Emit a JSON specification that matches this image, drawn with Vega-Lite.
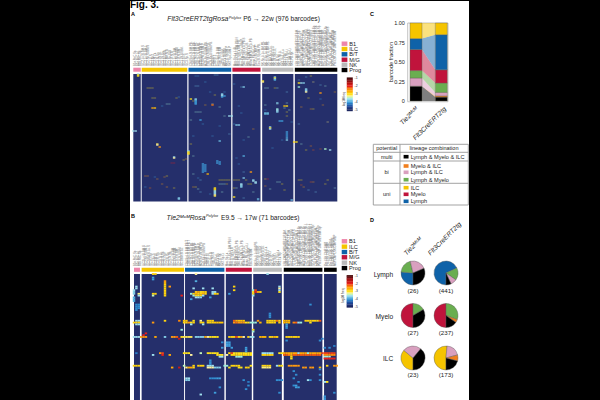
{"$schema":"https://vega.github.io/schema/vega-lite/v6.json","width":600,"height":400,"padding":0,"autosize":{"type":"fit","contains":"padding"},"background":"black",
"config":{"view":{"stroke":null},"axis":{"disable":true},"legend":{"disable":true},"text":{"font":"Liberation Sans","color":"#222"}},
"resolve":{"scale":{"x":"independent","y":"independent","color":"independent","fill":"independent"}},
"datasets":{
"ga":[{"g":"B1","x":0,"x2":3.1,"y":0,"y2":127.5,"sy":-6.3,"sy2":-2.3},{"g":"ILC","x":3.5,"x2":22.5,"y":0,"y2":127.5,"sy":-6.3,"sy2":-2.3},{"g":"B/T","x":23,"x2":40.8,"y":0,"y2":127.5,"sy":-6.3,"sy2":-2.3},{"g":"M/G","x":41.3,"x2":53,"y":0,"y2":127.5,"sy":-6.3,"sy2":-2.3},{"g":"NK","x":53.7,"x2":66.7,"y":0,"y2":127.5,"sy":-6.3,"sy2":-2.3},{"g":"Prog","x":67.3,"x2":85,"y":0,"y2":127.5,"sy":-6.3,"sy2":-2.3}],
"gb":[{"g":"B1","x":0,"x2":2.5,"y":0,"y2":70.6,"sy":-3.5,"sy2":-1.2},{"g":"ILC","x":3.2,"x2":21,"y":0,"y2":70.6,"sy":-3.5,"sy2":-1.2},{"g":"B/T","x":21.4,"x2":37.9,"y":0,"y2":70.6,"sy":-3.5,"sy2":-1.2},{"g":"M/G","x":38.5,"x2":49.4,"y":0,"y2":70.6,"sy":-3.5,"sy2":-1.2},{"g":"NK","x":50,"x2":62,"y":0,"y2":70.6,"sy":-3.5,"sy2":-1.2},{"g":"Prog","x":62.8,"x2":79,"y":0,"y2":70.6,"sy":-3.5,"sy2":-1.2},{"g":"Prog","x":79.7,"x2":85,"y":0,"y2":70.6,"sy":-3.5,"sy2":-1.2}],
"lega":[{"t":"B1","g":"B1","y":-30.3,"x":86.8,"x2":89.2,"tx":90},{"t":"ILC","g":"ILC","y":-25,"x":86.8,"x2":89.2,"tx":90},{"t":"B/T","g":"B/T","y":-19.7,"x":86.8,"x2":89.2,"tx":90},{"t":"M/G","g":"M/G","y":-14.3,"x":86.8,"x2":89.2,"tx":90},{"t":"NK","g":"NK","y":-9.3,"x":86.8,"x2":89.2,"tx":90},{"t":"Prog","g":"Prog","y":-4,"x":86.8,"x2":89.2,"tx":90}],
"legb":[{"t":"B1","g":"B1","y":-18.2,"x":87.1,"x2":89.4,"tx":90.2},{"t":"ILC","g":"ILC","y":-15.2,"x":87.1,"x2":89.4,"tx":90.2},{"t":"B/T","g":"B/T","y":-12.2,"x":87.1,"x2":89.4,"tx":90.2},{"t":"M/G","g":"M/G","y":-9.3,"x":87.1,"x2":89.4,"tx":90.2},{"t":"NK","g":"NK","y":-6.3,"x":87.1,"x2":89.4,"tx":90.2},{"t":"Prog","g":"Prog","y":-3.3,"x":87.1,"x2":89.4,"tx":90.2}],
"cba":[{"x":90.2,"y":4.3,"v":-1},{"x":90.2,"y":5.9,"v":-1.2},{"x":90.2,"y":7.5,"v":-1.4},{"x":90.2,"y":9.1,"v":-1.6},{"x":90.2,"y":10.7,"v":-1.8},{"x":90.2,"y":12.3,"v":-2},{"x":90.2,"y":13.9,"v":-2.2},{"x":90.2,"y":15.5,"v":-2.4},{"x":90.2,"y":17.1,"v":-2.6},{"x":90.2,"y":18.7,"v":-2.8},{"x":90.2,"y":20.3,"v":-3},{"x":90.2,"y":21.9,"v":-3.2},{"x":90.2,"y":23.5,"v":-3.4},{"x":90.2,"y":25.1,"v":-3.6},{"x":90.2,"y":26.7,"v":-3.8},{"x":90.2,"y":28.3,"v":-4},{"x":90.2,"y":29.9,"v":-4.2},{"x":90.2,"y":31.5,"v":-4.4},{"x":90.2,"y":33.1,"v":-4.6},{"x":90.2,"y":34.7,"v":-4.8},{"x":90.2,"y":36.3,"v":-5}],
"cbb":[{"x":90.5,"y":1.1,"v":-1},{"x":90.5,"y":1.96,"v":-1.2},{"x":90.5,"y":2.81,"v":-1.4},{"x":90.5,"y":3.67,"v":-1.6},{"x":90.5,"y":4.52,"v":-1.8},{"x":90.5,"y":5.38,"v":-2},{"x":90.5,"y":6.23,"v":-2.2},{"x":90.5,"y":7.09,"v":-2.4},{"x":90.5,"y":7.94,"v":-2.6},{"x":90.5,"y":8.8,"v":-2.8},{"x":90.5,"y":9.65,"v":-3},{"x":90.5,"y":10.51,"v":-3.2},{"x":90.5,"y":11.36,"v":-3.4},{"x":90.5,"y":12.22,"v":-3.6},{"x":90.5,"y":13.07,"v":-3.8},{"x":90.5,"y":13.93,"v":-4},{"x":90.5,"y":14.78,"v":-4.2},{"x":90.5,"y":15.64,"v":-4.4},{"x":90.5,"y":16.49,"v":-4.6},{"x":90.5,"y":17.35,"v":-4.8},{"x":90.5,"y":18.2,"v":-5}],
"cta":[{"x":92.2,"y":4.3,"t":"-1"},{"x":92.2,"y":12.3,"t":"-2"},{"x":92.2,"y":20.3,"t":"-3"},{"x":92.2,"y":28.3,"t":"-4"},{"x":92.2,"y":36.3,"t":"-5"}],
"ctb":[{"x":92.6,"y":1.1,"t":"-1"},{"x":92.6,"y":5.38,"t":"-2"},{"x":92.6,"y":9.65,"t":"-3"},{"x":92.6,"y":13.93,"t":"-4"},{"x":92.6,"y":18.2,"t":"-5"}],
"la":[{"y":-8,"x":0.6,"t":"B1a.PeC.Sp."},{"y":-8,"x":1.6,"t":"B1a.PeC.Lu."},{"y":-8,"x":2.6,"t":"B1b.PeC.Sp."},{"y":-8,"x":4,"t":"ILC2.Lu.SI.BM.S"},{"y":-8,"x":5,"t":"ILC2.Lu.SI.BM.L"},{"y":-8,"x":6,"t":"ILC2.Sp.SI.BM.S"},{"y":-8,"x":7,"t":"ILC1.Li.S"},{"y":-8,"x":8,"t":"ILC1.Sp.L"},{"y":-8,"x":9,"t":"ILC3.SI.Lu."},{"y":-8,"x":10,"t":"ILC3.SI.Sp."},{"y":-8,"x":11,"t":"ILC3.LN.Lu."},{"y":-8,"x":12,"t":"ILC3.LN.Sp."},{"y":-8,"x":13,"t":"ILC2.Lu.SI.B"},{"y":-8,"x":14,"t":"ILC2.BM.SI.B"},{"y":-8,"x":15,"t":"ILC2.Sp.SI.B"},{"y":-8,"x":16,"t":"ILC2.Li.SI.B"},{"y":-8,"x":17,"t":"ILC1.Lu.SI.BM."},{"y":-8,"x":18,"t":"ILC1.Sp.SI.BM."},{"y":-8,"x":19,"t":"ILC1.Li.SI.BM."},{"y":-8,"x":20,"t":"ILC1.LN.SI.BM."},{"y":-8,"x":21,"t":"ILC3.Lu.S"},{"y":-8,"x":22,"t":"ILC3.Sp.S"},
{"y":-8,"x":24,"t":"CD4.Sp.LN.BM.PB."},{"y":-8,"x":25,"t":"CD8.Sp.LN.BM.PB."},{"y":-8,"x":26,"t":"CD4.Th.LN.BM.PB."},{"y":-8,"x":27,"t":"CD8.Th.LN.BM.PB."},{"y":-8,"x":28,"t":"B220.Sp.LN.BM.P"},{"y":-8,"x":29,"t":"B220.PB.LN.BM.P"},{"y":-8,"x":30,"t":"MZB.Sp.LN.BM.PB."},{"y":-8,"x":31,"t":"FoB.Sp.LN.BM.PB."},{"y":-8,"x":32,"t":"GCB.Sp.LN.BM.PB."},{"y":-8,"x":33,"t":"CD4.SI.L"},{"y":-8,"x":34,"t":"CD8.SI.L"},{"y":-8,"x":35,"t":"Treg.Sp.LN.BM"},{"y":-8,"x":36,"t":"Treg.Th.LN.BM"},{"y":-8,"x":37,"t":"gdT.SI.Lu.BM."},{"y":-8,"x":38,"t":"gdT.Lu.Sp.BM."},{"y":-8,"x":39,"t":"NKT.Li.Sp.BM.P"},{"y":-8,"x":40,"t":"NKT.Sp.Li.BM.P"},
{"y":-8,"x":42,"t":"Mac.Sp.Lu.Li.B"},{"y":-8,"x":43,"t":"Mac.Lu.Sp.Li.BM.PB.N"},{"y":-8,"x":44,"t":"Mac.Li.Sp.Lu.BM.PB"},{"y":-8,"x":45,"t":"Mac.PeC.Sp.Lu.BM.P"},{"y":-8,"x":46,"t":"Neu.BM.Sp.Lu.Li.PB.S"},{"y":-8,"x":47,"t":"Neu.PB.Sp.Lu.Li.B"},{"y":-8,"x":48,"t":"Neu.Sp.BM.Lu.Li."},{"y":-8,"x":49,"t":"Mono.BM.Sp.Lu.Li.PB"},{"y":-8,"x":50,"t":"Mono.PB.Sp.Lu.L"},{"y":-8,"x":51,"t":"Eos.Lu.Sp.BM.P"},{"y":-8,"x":52,"t":"Eos.SI.Sp.BM.PB."},
{"y":-8,"x":54,"t":"NK.Sp.Li.Lu.BM.PB."},{"y":-8,"x":55,"t":"NK.Li.Sp.Lu.BM.PB."},{"y":-8,"x":56,"t":"NK.Lu.Sp.Li.BM.PB."},{"y":-8,"x":57,"t":"NK.BM.Sp.Li.Lu."},{"y":-8,"x":58,"t":"NK.PB.Sp.Li.Lu."},{"y":-8,"x":59,"t":"NK.LN.Sp.Li.L"},{"y":-8,"x":60,"t":"NK.SI.Sp."},{"y":-8,"x":61,"t":"NK.Th.Sp.Li."},{"y":-8,"x":62,"t":"NK1.Sp.Li.Lu."},{"y":-8,"x":63,"t":"NK1.Li.Sp."},{"y":-8,"x":64,"t":"NK1.Lu.Sp.Li"},{"y":-8,"x":65,"t":"NK1.BM.Sp.Li"},{"y":-8,"x":66,"t":"NK1.PB.Sp."},
{"y":-8,"x":68,"t":"LSK.CMP.GMP.MEP.CLP.BM."},{"y":-8,"x":69,"t":"LSK.CMP.GMP.MEP.CLP.Sp."},{"y":-8,"x":70,"t":"LMPP.CMP.GMP.MEP.CLP."},{"y":-8,"x":71,"t":"MPP.CMP.GMP.MEP.CLP.BM."},{"y":-8,"x":72,"t":"HSC.CMP.GMP.MEP.CLP.BM."},{"y":-8,"x":73,"t":"ST.CMP.GMP.MEP.CLP.BM.S"},{"y":-8,"x":74,"t":"LT.CMP.GMP.MEP.CLP.BM.S"},{"y":-8,"x":75,"t":"CMP.LSK.GMP.MEP.CLP.BM.Sp."},{"y":-8,"x":76,"t":"GMP.LSK.CMP.MEP.CLP.BM.Sp."},{"y":-8,"x":77,"t":"MEP.LSK.CMP.GMP.CLP.BM.Sp."},{"y":-8,"x":78,"t":"CLP.LSK.CMP.GMP.MEP.BM."},{"y":-8,"x":79,"t":"ALP.LSK.CMP.GMP.MEP.BM."},{"y":-8,"x":80,"t":"BLP.LSK.CMP.GMP.MEP.BM.Sp"},{"y":-8,"x":81,"t":"ILCP.LSK.CMP.GMP.MEP.BM.S"},{"y":-8,"x":82,"t":"ChILP.LSK.CMP.GMP.MEP."},{"y":-8,"x":83,"t":"NKP.LSK.CMP.GMP.MEP.BM"},{"y":-8,"x":84,"t":"Pro.LSK.CMP.GMP.MEP.BM"}],
"lb":[{"y":-4.4,"x":0.4,"t":"B1a.PeC.Sp"},{"y":-4.4,"x":1.4,"t":"B1a.PeC.Lu"},{"y":-4.4,"x":2.3,"t":"B1b.PeC.Sp"},{"y":-4.4,"x":4,"t":"ILC2.Lu.SI.BM.S"},{"y":-4.4,"x":5,"t":"ILC2.Sp.SI.BM.L"},{"y":-4.4,"x":6,"t":"ILC2.BM.SI.Lu.S"},{"y":-4.4,"x":7,"t":"ILC1.Li.Sp"},{"y":-4.4,"x":8,"t":"ILC1.Sp.Li"},{"y":-4.4,"x":9,"t":"ILC3.SI.Lu."},{"y":-4.4,"x":10,"t":"ILC3.SI.Sp."},{"y":-4.4,"x":11,"t":"ILC3.LN.Lu."},{"y":-4.4,"x":12,"t":"ILC3.LN.Sp."},{"y":-4.4,"x":13,"t":"ILC2.Li.Sp."},{"y":-4.4,"x":14,"t":"ILC2.SI.Sp."},{"y":-4.4,"x":15,"t":"ILC2.LN.Sp."},{"y":-4.4,"x":16,"t":"ILC1.Lu.SI.BM."},{"y":-4.4,"x":17,"t":"ILC1.Sp.SI.BM."},{"y":-4.4,"x":18,"t":"ILC1.Li.SI.BM."},{"y":-4.4,"x":19,"t":"ILC1.LN.SI.BM."},{"y":-4.4,"x":20,"t":"ILC1.BM.SI.Lu."},
{"y":-4.4,"x":22,"t":"CD4.Sp.LN.BM.PB.T"},{"y":-4.4,"x":23,"t":"CD8.Sp.LN.BM.PB.T"},{"y":-4.4,"x":24,"t":"CD4.Th.LN.BM.PB"},{"y":-4.4,"x":25,"t":"CD8.Th.LN.BM.PB"},{"y":-4.4,"x":26,"t":"B220.Sp.LN.BM.P"},{"y":-4.4,"x":27,"t":"B220.PB.LN.BM.P"},{"y":-4.4,"x":28,"t":"MZB.Sp.LN.BM.PB"},{"y":-4.4,"x":29,"t":"FoB.Sp.LN.BM.PB"},{"y":-4.4,"x":30,"t":"CD4.SI.Lu"},{"y":-4.4,"x":31,"t":"CD8.SI.Lu"},{"y":-4.4,"x":32,"t":"Treg.Sp.LN"},{"y":-4.4,"x":33,"t":"Treg.Th.LN"},{"y":-4.4,"x":34,"t":"gdT.SI.Lu."},{"y":-4.4,"x":35,"t":"gdT.Lu.Sp."},{"y":-4.4,"x":36,"t":"NKT.Li.Sp."},{"y":-4.4,"x":37,"t":"NKT.Sp.Li."},
{"y":-4.4,"x":39,"t":"Mac.Sp.Lu."},{"y":-4.4,"x":40,"t":"Mac.Lu.Sp.Li.BM.PB.N"},{"y":-4.4,"x":41,"t":"Mac.Li.Sp.Lu.B"},{"y":-4.4,"x":42,"t":"Mac.PeC.Sp.Lu."},{"y":-4.4,"x":43,"t":"Neu.BM.Sp.Lu.Li.PB."},{"y":-4.4,"x":44,"t":"Neu.PB.Sp.Lu.L"},{"y":-4.4,"x":45,"t":"Neu.Sp.BM.Lu.Li.PB"},{"y":-4.4,"x":46,"t":"Mono.BM.Sp.Lu"},{"y":-4.4,"x":47,"t":"Mono.PB.Sp.Lu.Li."},{"y":-4.4,"x":48,"t":"Eos.Lu.Sp.BM."},{"y":-4.4,"x":49,"t":"Eos.SI.Sp.BM."},
{"y":-4.4,"x":51,"t":"NK.Sp.Li.Lu.BM.PB"},{"y":-4.4,"x":52,"t":"NK.Li.Sp.Lu.BM."},{"y":-4.4,"x":53,"t":"NK.Lu.Sp.Li.BM."},{"y":-4.4,"x":54,"t":"NK.BM.Sp.Li.Lu."},{"y":-4.4,"x":55,"t":"NK.PB.Sp.Li.Lu."},{"y":-4.4,"x":56,"t":"NK.LN.Sp.Li."},{"y":-4.4,"x":57,"t":"NK.SI.Sp.Li."},{"y":-4.4,"x":58,"t":"NK.Th.Sp."},{"y":-4.4,"x":59,"t":"NK1.Sp.Li"},{"y":-4.4,"x":60,"t":"NK1.Li.Sp.Lu"},{"y":-4.4,"x":61,"t":"NK1.Lu.Sp"},
{"y":-4.4,"x":63,"t":"LSK.CMP.GMP.MEP.CLP.BM."},{"y":-4.4,"x":64,"t":"LMPP.CMP.GMP.MEP.CLP."},{"y":-4.4,"x":65,"t":"MPP.CMP.GMP.MEP.CLP.BM"},{"y":-4.4,"x":66,"t":"HSC.CMP.GMP.MEP.CLP.BM"},{"y":-4.4,"x":67,"t":"ST.CMP.GMP.MEP.CLP.BM.S"},{"y":-4.4,"x":68,"t":"LT.CMP.GMP.MEP.CLP.BM.S"},{"y":-4.4,"x":69,"t":"CMP.LSK.GMP.MEP.CLP.BM.Sp"},{"y":-4.4,"x":70,"t":"GMP.LSK.CMP.MEP.CLP.BM.Sp"},{"y":-4.4,"x":71,"t":"MEP.LSK.CMP.GMP.CLP.BM.Sp"},{"y":-4.4,"x":72,"t":"CLP.LSK.CMP.GMP.MEP.BM.Sp.L"},{"y":-4.4,"x":73,"t":"ALP.LSK.CMP.GMP.MEP.BM.Sp.L"},{"y":-4.4,"x":74,"t":"BLP.LSK.CMP.GMP.MEP.BM.Sp.L"},{"y":-4.4,"x":75,"t":"ILCP.LSK.CMP.GMP.MEP.BM.Sp."},{"y":-4.4,"x":76,"t":"ChILP.LSK.CMP.GMP.MEP.BM."},{"y":-4.4,"x":77,"t":"NKP.LSK.CMP.GMP.MEP.BM.Sp"},{"y":-4.4,"x":78,"t":"Pro.LSK.CMP.GMP.MEP.BM.Sp"},{"y":-4.4,"x":80.3,"t":"Pre.LSK.CMP.GMP"},{"y":-4.4,"x":81.3,"t":"Pro.LSK.CMP.GMP"},{"y":-4.4,"x":82.3,"t":"Pre.CMP.LSK.GMP.M"},{"y":-4.4,"x":83.3,"t":"Pro.CMP.LSK.GMP.ME"},{"y":-4.4,"x":84.3,"t":"MkP.CMP.LSK.GMP.MEP"}],
"ha":[{"x":2,"y":0,"v":-3.6},{"x":2,"y":1,"v":-3},{"x":2,"y":2,"v":-3},{"x":0,"y":57,"v":-3.6},{"x":1,"y":57,"v":-3.6},{"x":8,"y":34,"v":-2.6},{"x":9,"y":34,"v":-2.8},{"x":10,"y":70,"v":-3.1},{"x":10,"y":71,"v":-3.3},{"x":11,"y":73,"v":-2.5},{"x":17,"y":83,"v":-3.6},{"x":17,"y":84,"v":-3.3},{"x":19,"y":124,"v":-3.7},{"x":19,"y":125,"v":-3.7},{"x":24,"y":25,"v":-3},{"x":23,"y":77,"v":-3.7},{"x":23,"y":78,"v":-3},{"x":23,"y":79,"v":-2.9},{"x":23,"y":80,"v":-3},{"x":26,"y":25,"v":-3.7},{"x":26,"y":26,"v":-3.7},{"x":26,"y":27,"v":-4},{"x":26,"y":28,"v":-4},{"x":26,"y":29,"v":-4},{"x":26,"y":30,"v":-4},{"x":33,"y":31,"v":-2.3},{"x":37,"y":20,"v":-3.7},{"x":37,"y":21,"v":-3.6},{"x":37,"y":22,"v":-3.6},{"x":37,"y":23,"v":-4},{"x":38,"y":22,"v":-4},{"x":40,"y":42,"v":-3.6},{"x":41,"y":42,"v":-3.6},{"x":28,"y":46,"v":-4},{"x":36,"y":67,"v":-3.8},{"x":29,"y":90,"v":-4},{"x":29,"y":92,"v":-4},{"x":29,"y":94,"v":-4},{"x":29,"y":96,"v":-4},{"x":29,"y":98,"v":-4},{"x":30,"y":91,"v":-4},{"x":30,"y":93,"v":-4},{"x":30,"y":95,"v":-4},{"x":30,"y":97,"v":-4},{"x":35,"y":87,"v":-4},{"x":35,"y":89,"v":-4},{"x":36,"y":88,"v":-4},{"x":36,"y":90,"v":-4},{"x":31,"y":100,"v":-2.7},{"x":34,"y":114,"v":-3},{"x":34,"y":115,"v":-2.9},{"x":34,"y":116,"v":-3},{"x":34,"y":117,"v":-3.6},{"x":34,"y":118,"v":-3.6},{"x":34,"y":119,"v":-3.6},{"x":34,"y":120,"v":-3.6},{"x":34,"y":121,"v":-3.2},{"x":34,"y":122,"v":-3.1},{"x":42,"y":123,"v":-3},{"x":43,"y":51,"v":-3.7},{"x":44,"y":51,"v":-3.7},{"x":46,"y":82,"v":-3.9},{"x":45,"y":110,"v":-3.6},{"x":45,"y":111,"v":-3.6},{"x":45,"y":112,"v":-3.7},{"x":45,"y":113,"v":-3.7},{"x":49,"y":98,"v":-2.5},{"x":50,"y":106,"v":-3.7},{"x":50,"y":107,"v":-3.6},{"x":51,"y":108,"v":-3.6},{"x":51,"y":109,"v":-3.6},{"x":54,"y":7,"v":-3},{"x":54,"y":8,"v":-3.2},{"x":59,"y":3,"v":-3.7},{"x":59,"y":4,"v":-3},{"x":59,"y":5,"v":-3.6},{"x":59,"y":6,"v":-3.9},{"x":55,"y":39,"v":-3.8},{"x":55,"y":40,"v":-3.8},{"x":56,"y":39,"v":-3.8},{"x":56,"y":40,"v":-3.8},{"x":57,"y":53,"v":-3.6},{"x":57,"y":54,"v":-2.9},{"x":57,"y":55,"v":-3.6},{"x":60,"y":35,"v":-3.5},{"x":60,"y":36,"v":-3.6},{"x":60,"y":37,"v":-3.6},{"x":60,"y":38,"v":-3.7},{"x":60,"y":29,"v":-3.7},{"x":63,"y":32,"v":-2.8},{"x":64,"y":32,"v":-3},{"x":61,"y":47,"v":-4},{"x":62,"y":47,"v":-4},{"x":64,"y":58,"v":-4},{"x":64,"y":60,"v":-4},{"x":64,"y":62,"v":-4},{"x":64,"y":64,"v":-3.9},{"x":64,"y":66,"v":-3.7},{"x":67,"y":68,"v":-2.9},{"x":68,"y":68,"v":-3},{"x":69,"y":9,"v":-3},{"x":69,"y":13,"v":-3.5},{"x":70,"y":9,"v":-3.6},{"x":71,"y":9,"v":-3.7},{"x":72,"y":15,"v":-3.7},{"x":72,"y":16,"v":-3.7},{"x":72,"y":17,"v":-3.6},{"x":72,"y":18,"v":-3.3},{"x":78,"y":19,"v":-2.5},{"x":66,"y":126,"v":-3.8},{"x":52,"y":125,"v":-3.8},{"x":46,"y":13,"v":-3.7},{"x":80,"y":75,"v":-3.5},{"x":82,"y":76,"v":-3.6},{"x":46,"y":104,"v":-3.7}],
"hf":[{"x":6,"y":14,"v":-3},{"x":7,"y":14,"v":-3},{"x":8,"y":14,"v":-3},{"x":8,"y":24,"v":-3},{"x":9,"y":24,"v":-3},{"x":5,"y":102,"v":-2.5},{"x":6,"y":102,"v":-2.5},{"x":13,"y":103,"v":-2.5},{"x":14,"y":102,"v":-3},{"x":16,"y":89,"v":-2},{"x":17,"y":89,"v":-2},{"x":21,"y":86,"v":-3},{"x":22,"y":85,"v":-2.5},{"x":14,"y":30,"v":-3.5},{"x":15,"y":30,"v":-3.5},{"x":12,"y":32,"v":-4},{"x":18,"y":24,"v":-3},{"x":19,"y":23,"v":-4},{"x":9,"y":103,"v":-4},{"x":10,"y":105,"v":-2.5},{"x":7,"y":114,"v":-2.3},{"x":12,"y":110,"v":-2.5},{"x":17,"y":114,"v":-3},{"x":5,"y":113,"v":-4},{"x":14,"y":113,"v":-2.5},{"x":26,"y":2,"v":-4},{"x":27,"y":2,"v":-4},{"x":34,"y":1,"v":-3.8},{"x":35,"y":1,"v":-3.8},{"x":30,"y":8,"v":-4},{"x":26,"y":12,"v":-3.8},{"x":27,"y":12,"v":-3.8},{"x":32,"y":18,"v":-4},{"x":38,"y":18,"v":-4},{"x":25,"y":27,"v":-3},{"x":34,"y":21,"v":-3},{"x":30,"y":31,"v":-2.6},{"x":33,"y":30,"v":-3.3},{"x":36,"y":33,"v":-3.5},{"x":26,"y":38,"v":-3.5},{"x":27,"y":38,"v":-3.5},{"x":28,"y":38,"v":-3.5},{"x":38,"y":42,"v":-3.5},{"x":24,"y":46,"v":-3.5},{"x":29,"y":50,"v":-4},{"x":36,"y":52,"v":-4},{"x":25,"y":62,"v":-4},{"x":33,"y":62,"v":-4},{"x":40,"y":60,"v":-3.8},{"x":24,"y":70,"v":-3},{"x":25,"y":82,"v":-3.5},{"x":25,"y":100,"v":-3.5},{"x":27,"y":104,"v":-4},{"x":28,"y":106,"v":-3.8},{"x":36,"y":106,"v":-3},{"x":37,"y":106,"v":-3},{"x":38,"y":106,"v":-3},{"x":39,"y":106,"v":-3},{"x":40,"y":106,"v":-3},{"x":36,"y":110,"v":-3.5},{"x":37,"y":110,"v":-3.5},{"x":38,"y":110,"v":-3.5},{"x":39,"y":110,"v":-2.8},{"x":25,"y":113,"v":-2.6},{"x":26,"y":113,"v":-3},{"x":27,"y":115,"v":-3.5},{"x":28,"y":118,"v":-3.8},{"x":37,"y":118,"v":-3.5},{"x":32,"y":120,"v":-4},{"x":42,"y":10,"v":-4},{"x":45,"y":13,"v":-3.8},{"x":44,"y":32,"v":-4},{"x":45,"y":39,"v":-4},{"x":42,"y":50,"v":-4},{"x":46,"y":66,"v":-4},{"x":50,"y":55,"v":-2.5},{"x":48,"y":63,"v":-3.5},{"x":43,"y":84,"v":-4},{"x":44,"y":90,"v":-4},{"x":46,"y":98,"v":-3.8},{"x":42,"y":106,"v":-3},{"x":43,"y":106,"v":-3},{"x":44,"y":106,"v":-3},{"x":47,"y":106,"v":-3},{"x":48,"y":110,"v":-3},{"x":49,"y":110,"v":-3},{"x":42,"y":114,"v":-3},{"x":43,"y":114,"v":-3.5},{"x":50,"y":118,"v":-3.5},{"x":46,"y":124,"v":-3.8},{"x":52,"y":126,"v":-3.8},{"x":55,"y":14,"v":-3.5},{"x":56,"y":14,"v":-3.5},{"x":59,"y":14,"v":-3},{"x":60,"y":14,"v":-3.5},{"x":64,"y":18,"v":-3.8},{"x":55,"y":31,"v":-3.5},{"x":60,"y":30,"v":-3.5},{"x":64,"y":29,"v":-3.5},{"x":63,"y":34,"v":-3.5},{"x":64,"y":38,"v":-3},{"x":65,"y":36,"v":-3.5},{"x":55,"y":36,"v":-4},{"x":64,"y":42,"v":-3},{"x":66,"y":48,"v":-4},{"x":58,"y":74,"v":-4},{"x":62,"y":66,"v":-4},{"x":55,"y":105,"v":-3},{"x":56,"y":105,"v":-2},{"x":60,"y":108,"v":-3.5},{"x":61,"y":108,"v":-3.5},{"x":62,"y":110,"v":-3},{"x":55,"y":112,"v":-2.5},{"x":63,"y":116,"v":-3},{"x":57,"y":115,"v":-3.5},{"x":69,"y":6,"v":-3.8},{"x":72,"y":3,"v":-3.8},{"x":74,"y":2,"v":-3},{"x":75,"y":8,"v":-3.2},{"x":78,"y":11,"v":-3.8},{"x":80,"y":12,"v":-3.5},{"x":84,"y":18,"v":-2.6},{"x":73,"y":24,"v":-3},{"x":78,"y":25,"v":-4},{"x":70,"y":33,"v":-2.5},{"x":74,"y":35,"v":-2.5},{"x":75,"y":35,"v":-3},{"x":79,"y":31,"v":-2.5},{"x":69,"y":50,"v":-3.8},{"x":81,"y":48,"v":-3.2},{"x":70,"y":70,"v":-3.5},{"x":74,"y":72,"v":-2.4},{"x":72,"y":76,"v":-3},{"x":75,"y":76,"v":-2.2},{"x":78,"y":75,"v":-2.2},{"x":80,"y":75,"v":-3},{"x":69,"y":106,"v":-3},{"x":70,"y":106,"v":-3},{"x":71,"y":113,"v":-2.6},{"x":70,"y":111,"v":-2.2},{"x":74,"y":108,"v":-2.2},{"x":75,"y":108,"v":-2.5},{"x":80,"y":110,"v":-3},{"x":81,"y":106,"v":-3},{"x":73,"y":116,"v":-3.8},{"x":84,"y":114,"v":-3.6},{"x":76,"y":118,"v":-3.8}],
"hb":[{"x":1,"y":26,"v":-3.6},{"x":2,"y":26,"v":-3.6},{"x":0,"y":27,"v":-2.9},{"x":1,"y":27,"v":-2.9},{"x":2,"y":27,"v":-2.9},{"x":1,"y":28,"v":-3.6},{"x":2,"y":28,"v":-3.6},{"x":8,"y":27,"v":-2.5},{"x":13,"y":26,"v":-2.9},{"x":19,"y":26,"v":-2.4},{"x":21,"y":26,"v":-2.8},{"x":22,"y":26,"v":-2.8},{"x":21,"y":27,"v":-2.9},{"x":22,"y":27,"v":-2.9},{"x":23,"y":27,"v":-2.5},{"x":24,"y":27,"v":-3},{"x":24,"y":28,"v":-3.6},{"x":25,"y":26,"v":-3},{"x":25,"y":27,"v":-2.9},{"x":28,"y":26,"v":-3.3},{"x":28,"y":27,"v":-2.9},{"x":29,"y":27,"v":-2.9},{"x":29,"y":28,"v":-3.6},{"x":31,"y":26,"v":-2.9},{"x":32,"y":26,"v":-2.9},{"x":33,"y":26,"v":-2.9},{"x":31,"y":27,"v":-2.9},{"x":32,"y":27,"v":-2.9},{"x":33,"y":27,"v":-2.9},{"x":34,"y":27,"v":-2.8},{"x":35,"y":27,"v":-2.8},{"x":36,"y":27,"v":-2.8},{"x":37,"y":27,"v":-2.8},{"x":42,"y":26,"v":-2.2},{"x":42,"y":27,"v":-2.5},{"x":43,"y":26,"v":-2.7},{"x":43,"y":27,"v":-2.3},{"x":44,"y":26,"v":-2.8},{"x":45,"y":26,"v":-2.8},{"x":46,"y":26,"v":-2.8},{"x":44,"y":27,"v":-2.5},{"x":45,"y":27,"v":-2.5},{"x":46,"y":27,"v":-2.5},{"x":47,"y":27,"v":-3},{"x":48,"y":27,"v":-3},{"x":49,"y":27,"v":-3.5},{"x":50,"y":27,"v":-3.5},{"x":51,"y":27,"v":-3.5},{"x":52,"y":26,"v":-2.5},{"x":53,"y":27,"v":-2.7},{"x":56,"y":26,"v":-2.9},{"x":57,"y":26,"v":-2.9},{"x":58,"y":26,"v":-2.9},{"x":59,"y":26,"v":-2.9},{"x":56,"y":27,"v":-2.9},{"x":57,"y":27,"v":-2.9},{"x":58,"y":27,"v":-2.9},{"x":59,"y":27,"v":-2.9},{"x":60,"y":26,"v":-2.3},{"x":61,"y":26,"v":-2.9},{"x":61,"y":27,"v":-2.9},{"x":63,"y":26,"v":-2.7},{"x":64,"y":26,"v":-2.7},{"x":65,"y":26,"v":-2.7},{"x":63,"y":27,"v":-2.7},{"x":64,"y":27,"v":-2.7},{"x":65,"y":27,"v":-2.7},{"x":64,"y":28,"v":-4},{"x":64,"y":29,"v":-4},{"x":67,"y":27,"v":-2.4},{"x":68,"y":27,"v":-2.2},{"x":69,"y":27,"v":-3.6},{"x":70,"y":27,"v":-3.5},{"x":72,"y":26,"v":-2.9},{"x":73,"y":26,"v":-2.9},{"x":74,"y":26,"v":-2.9},{"x":75,"y":26,"v":-2.9},{"x":76,"y":26,"v":-2.9},{"x":77,"y":26,"v":-2.9},{"x":74,"y":27,"v":-3},{"x":78,"y":26,"v":-2.2},
{"x":0,"y":35,"v":-3.6},{"x":1,"y":35,"v":-3.6},{"x":2,"y":35,"v":-3.6},{"x":3,"y":35,"v":-2.5},{"x":4,"y":35,"v":-2.5},{"x":5,"y":35,"v":-2.5},{"x":4,"y":34,"v":-2},{"x":5,"y":33,"v":-2},{"x":9,"y":35,"v":-2.6},{"x":13,"y":35,"v":-3.7},{"x":16,"y":35,"v":-2.5},{"x":17,"y":35,"v":-2.5},{"x":18,"y":35,"v":-2.2},{"x":19,"y":36,"v":-1.8},{"x":20,"y":31,"v":-3.5},{"x":20,"y":35,"v":-3},{"x":21,"y":35,"v":-3.1},{"x":22,"y":35,"v":-3.1},{"x":23,"y":35,"v":-3.1},{"x":24,"y":35,"v":-3.1},{"x":26,"y":35,"v":-3.7},{"x":27,"y":35,"v":-3.7},{"x":28,"y":35,"v":-3.7},{"x":29,"y":35,"v":-3.7},{"x":30,"y":35,"v":-2.6},{"x":31,"y":35,"v":-3.3},{"x":32,"y":35,"v":-3},{"x":33,"y":35,"v":-3},{"x":34,"y":35,"v":-3},{"x":35,"y":35,"v":-3},{"x":40,"y":35,"v":-2.9},{"x":41,"y":35,"v":-2.9},{"x":42,"y":35,"v":-2.9},{"x":43,"y":35,"v":-2.1},{"x":44,"y":35,"v":-2.9},{"x":45,"y":35,"v":-2.6},{"x":46,"y":35,"v":-3.3},{"x":48,"y":35,"v":-2.9},{"x":49,"y":35,"v":-3.6},{"x":50,"y":35,"v":-3.6},{"x":50,"y":31,"v":-2.9},{"x":50,"y":32,"v":-3.5},{"x":53,"y":35,"v":-2.7},{"x":54,"y":35,"v":-2.7},{"x":55,"y":35,"v":-2.7},{"x":57,"y":35,"v":-2.9},{"x":58,"y":35,"v":-2.9},{"x":59,"y":35,"v":-2.7},{"x":60,"y":35,"v":-2.9},{"x":64,"y":35,"v":-2.9},{"x":65,"y":35,"v":-2.9},{"x":66,"y":35,"v":-2.9},{"x":67,"y":35,"v":-2.9},{"x":68,"y":35,"v":-2.9},{"x":69,"y":35,"v":-2.9},
{"x":1,"y":44,"v":-4.2},{"x":8,"y":45,"v":-3.6},{"x":11,"y":44,"v":-2.5},{"x":12,"y":44,"v":-2.1},{"x":12,"y":45,"v":-2},{"x":15,"y":45,"v":-2.6},{"x":21,"y":44,"v":-3},{"x":22,"y":44,"v":-3},{"x":23,"y":44,"v":-3},{"x":24,"y":45,"v":-3.3},{"x":28,"y":44,"v":-3.4},{"x":31,"y":44,"v":-3},{"x":32,"y":44,"v":-3},{"x":33,"y":44,"v":-3},{"x":34,"y":44,"v":-3},{"x":35,"y":44,"v":-3},{"x":35,"y":45,"v":-3},{"x":36,"y":45,"v":-3},{"x":37,"y":45,"v":-3},{"x":36,"y":46,"v":-3.6},{"x":37,"y":46,"v":-3.6},{"x":39,"y":45,"v":-3.3},{"x":40,"y":44,"v":-2.9},{"x":41,"y":44,"v":-2.1},{"x":41,"y":45,"v":-2.9},{"x":42,"y":44,"v":-3},{"x":43,"y":44,"v":-3},{"x":44,"y":44,"v":-3},{"x":45,"y":44,"v":-3},{"x":46,"y":44,"v":-3},{"x":47,"y":44,"v":-3},{"x":42,"y":45,"v":-2.9},{"x":43,"y":45,"v":-2.9},{"x":44,"y":45,"v":-2.9},{"x":45,"y":45,"v":-2.9},{"x":46,"y":45,"v":-2.9},{"x":47,"y":45,"v":-2.9},{"x":43,"y":46,"v":-3.5},{"x":44,"y":46,"v":-3.5},{"x":45,"y":46,"v":-3.5},{"x":48,"y":44,"v":-3},{"x":48,"y":45,"v":-3},{"x":49,"y":44,"v":-3},{"x":49,"y":45,"v":-3},{"x":54,"y":44,"v":-3.6},{"x":55,"y":44,"v":-3.6},{"x":56,"y":44,"v":-3.6},{"x":57,"y":44,"v":-3.6},{"x":58,"y":44,"v":-3.6},{"x":54,"y":45,"v":-2.9},{"x":55,"y":45,"v":-2.9},{"x":56,"y":45,"v":-2.9},{"x":57,"y":45,"v":-2.9},{"x":58,"y":45,"v":-2.9},{"x":61,"y":44,"v":-3},{"x":62,"y":44,"v":-3},
{"x":63,"y":44,"v":-2.6},{"x":64,"y":44,"v":-2.6},{"x":65,"y":44,"v":-2.6},{"x":66,"y":44,"v":-2.7},{"x":67,"y":44,"v":-2.6},{"x":68,"y":44,"v":-2.6},{"x":69,"y":44,"v":-3.6},{"x":70,"y":44,"v":-2.6},{"x":71,"y":44,"v":-2.6},{"x":72,"y":44,"v":-2.6},{"x":73,"y":44,"v":-3.5},{"x":74,"y":44,"v":-2.6},{"x":75,"y":44,"v":-2.6},{"x":76,"y":44,"v":-2.6},{"x":77,"y":44,"v":-2.6},{"x":78,"y":44,"v":-2.6},{"x":79,"y":44,"v":-2.1},{"x":80,"y":44,"v":-2.1},{"x":81,"y":44,"v":-2.1},{"x":82,"y":44,"v":-2.1},{"x":83,"y":44,"v":-2.1},{"x":84,"y":44,"v":-2.1},{"x":63,"y":45,"v":-2.2},{"x":64,"y":45,"v":-2.2},{"x":65,"y":45,"v":-2.4},{"x":66,"y":45,"v":-2.6},{"x":67,"y":45,"v":-2.2},{"x":68,"y":45,"v":-2.2},{"x":69,"y":45,"v":-2.2},{"x":70,"y":45,"v":-2.2},{"x":71,"y":45,"v":-2.2},{"x":72,"y":45,"v":-2.2},{"x":73,"y":45,"v":-2.2},{"x":74,"y":45,"v":-2.2},{"x":75,"y":45,"v":-2.2},{"x":76,"y":45,"v":-2.2},{"x":77,"y":45,"v":-2.2},{"x":78,"y":45,"v":-2.2},{"x":80,"y":45,"v":-2.4},{"x":81,"y":45,"v":-2.4},{"x":82,"y":45,"v":-2.4},{"x":83,"y":45,"v":-2.4},{"x":84,"y":45,"v":-2.4},{"x":66,"y":46,"v":-2.9},{"x":66,"y":47,"v":-3},{"x":80,"y":46,"v":-3.5},{"x":81,"y":46,"v":-3.5},{"x":82,"y":46,"v":-3.5},{"x":80,"y":47,"v":-2},{"x":81,"y":47,"v":-2},{"x":82,"y":47,"v":-2},{"x":83,"y":47,"v":-2},{"x":84,"y":47,"v":-2},
{"x":0,"y":51,"v":-2.9},{"x":1,"y":51,"v":-2.9},{"x":2,"y":51,"v":-2.9},{"x":16,"y":52,"v":-2.6},{"x":19,"y":52,"v":-1.8},{"x":21,"y":51,"v":-3.4},{"x":22,"y":52,"v":-3.2},{"x":23,"y":52,"v":-2.6},{"x":24,"y":52,"v":-2.6},{"x":25,"y":51,"v":-2.9},{"x":25,"y":52,"v":-2.9},{"x":27,"y":51,"v":-2.9},{"x":28,"y":51,"v":-2.9},{"x":29,"y":51,"v":-2.9},{"x":31,"y":51,"v":-3.6},{"x":32,"y":51,"v":-3.6},{"x":33,"y":51,"v":-3.6},{"x":31,"y":52,"v":-3.3},{"x":32,"y":52,"v":-3.3},{"x":33,"y":52,"v":-3.3},{"x":34,"y":52,"v":-3.7},{"x":35,"y":52,"v":-3.7},{"x":36,"y":52,"v":-3.7},{"x":38,"y":51,"v":-3.5},{"x":39,"y":51,"v":-3.5},{"x":40,"y":52,"v":-3},{"x":41,"y":51,"v":-2.9},{"x":42,"y":51,"v":-2.9},{"x":43,"y":51,"v":-2.9},{"x":44,"y":51,"v":-2.9},{"x":44,"y":52,"v":-3},{"x":45,"y":52,"v":-3},{"x":47,"y":52,"v":-2.9},{"x":48,"y":52,"v":-2.9},{"x":49,"y":51,"v":-3},{"x":54,"y":51,"v":-2.9},{"x":55,"y":51,"v":-2.9},{"x":56,"y":51,"v":-2.9},{"x":57,"y":51,"v":-2.9},{"x":54,"y":52,"v":-3.2},{"x":55,"y":52,"v":-3.2},{"x":56,"y":52,"v":-3.2},{"x":57,"y":52,"v":-3.2},{"x":60,"y":51,"v":-3.6},{"x":61,"y":51,"v":-3},{"x":62,"y":51,"v":-3},{"x":65,"y":51,"v":-2.5},{"x":66,"y":51,"v":-2.5},{"x":67,"y":51,"v":-2.5},{"x":68,"y":51,"v":-2.5},{"x":69,"y":51,"v":-2.5},{"x":71,"y":52,"v":-2.5},{"x":72,"y":52,"v":-2.5},{"x":74,"y":52,"v":-2.5},{"x":75,"y":52,"v":-2.5},{"x":78,"y":52,"v":-2.7},{"x":81,"y":51,"v":-2.9},{"x":84,"y":51,"v":-2.5},{"x":85,"y":51,"v":-2.5},
{"x":26,"y":10,"v":-2.9},{"x":27,"y":10,"v":-2.6},{"x":28,"y":10,"v":-3},{"x":29,"y":10,"v":-2.9},{"x":30,"y":10,"v":-2.9},{"x":24,"y":11,"v":-3.5},{"x":25,"y":11,"v":-2.9},{"x":26,"y":11,"v":-2.6},{"x":27,"y":11,"v":-2.9},{"x":28,"y":11,"v":-2.9},{"x":29,"y":11,"v":-2.6},{"x":30,"y":11,"v":-2.9},{"x":25,"y":12,"v":-3.5},{"x":26,"y":12,"v":-2.9},{"x":27,"y":12,"v":-3},{"x":28,"y":12,"v":-2.9},{"x":29,"y":12,"v":-3.6},{"x":26,"y":13,"v":-3.6},{"x":27,"y":13,"v":-3.6},{"x":28,"y":13,"v":-3.7},{"x":24,"y":14,"v":-4},{"x":25,"y":8,"v":-3.6},{"x":29,"y":8,"v":-3.6},{"x":26,"y":4,"v":-3.9},{"x":26,"y":0,"v":-3.3},{"x":33,"y":8,"v":-3.6},{"x":33,"y":10,"v":-3.6},{"x":34,"y":10,"v":-3.6},{"x":33,"y":11,"v":-3.6},{"x":34,"y":11,"v":-2.9},{"x":35,"y":11,"v":-2.9},{"x":32,"y":13,"v":-4},
{"x":8,"y":0,"v":-2.9},{"x":9,"y":0,"v":-2.9},{"x":8,"y":2,"v":-4},{"x":8,"y":3,"v":-4},{"x":13,"y":4,"v":-2.5},{"x":13,"y":5,"v":-2.7},{"x":13,"y":6,"v":-2.9},{"x":13,"y":7,"v":-2.9},{"x":13,"y":8,"v":-2.9},{"x":13,"y":9,"v":-2.9},{"x":13,"y":10,"v":-2.9},{"x":13,"y":11,"v":-2.9},{"x":13,"y":12,"v":-2.9},{"x":15,"y":7,"v":-2.5},{"x":8,"y":11,"v":-2.9},{"x":9,"y":11,"v":-2.9},{"x":8,"y":12,"v":-3.4},{"x":20,"y":12,"v":-2},{"x":1,"y":7,"v":-3.6},{"x":1,"y":8,"v":-3.6},{"x":0,"y":9,"v":-3.6},{"x":0,"y":10,"v":-3.7},{"x":0,"y":11,"v":-3.7},{"x":2,"y":11,"v":-3.2},{"x":2,"y":12,"v":-3.6},{"x":0,"y":13,"v":-3.9},{"x":0,"y":14,"v":-3.9},{"x":0,"y":15,"v":-3.9},{"x":1,"y":17,"v":-4.1},{"x":2,"y":17,"v":-4.1},{"x":1,"y":18,"v":-4.1},{"x":2,"y":18,"v":-4.1},{"x":1,"y":19,"v":-4.1},{"x":2,"y":19,"v":-4.1},{"x":1,"y":20,"v":-4.1},{"x":42,"y":7,"v":-2.9},{"x":42,"y":9,"v":-2.9},{"x":40,"y":11,"v":-4},{"x":50,"y":9,"v":-3.5},{"x":50,"y":10,"v":-3},{"x":51,"y":10,"v":-2},{"x":52,"y":10,"v":-2.6},{"x":53,"y":10,"v":-2.9},{"x":50,"y":11,"v":-2.9},{"x":50,"y":12,"v":-3.6},{"x":51,"y":9,"v":-2.1},{"x":61,"y":7,"v":-3.6},{"x":61,"y":8,"v":-3.3},{"x":61,"y":9,"v":-3.6},{"x":61,"y":10,"v":-3},{"x":56,"y":0,"v":-3.6},
{"x":57,"y":22,"v":-4.1},{"x":57,"y":23,"v":-4.1},{"x":57,"y":24,"v":-4.1},{"x":74,"y":17,"v":-4.1},{"x":64,"y":30,"v":-4.1},{"x":64,"y":37,"v":-4.1},{"x":78,"y":37,"v":-4.1},{"x":39,"y":38,"v":-4},{"x":40,"y":38,"v":-4},{"x":39,"y":39,"v":-4},{"x":40,"y":39,"v":-4},{"x":39,"y":40,"v":-4},{"x":40,"y":40,"v":-4},{"x":41,"y":41,"v":-4},{"x":37,"y":38,"v":-4.1},{"x":37,"y":41,"v":-4},{"x":47,"y":41,"v":-4},{"x":47,"y":42,"v":-4},{"x":47,"y":43,"v":-4},{"x":32,"y":48,"v":-4.1},{"x":32,"y":49,"v":-4.1},{"x":32,"y":50,"v":-4.1},{"x":22,"y":58,"v":-3.6},{"x":23,"y":58,"v":-3.6},{"x":22,"y":59,"v":-3.7},{"x":23,"y":59,"v":-3.7},{"x":32,"y":58,"v":-4.1},{"x":33,"y":58,"v":-4.1},{"x":34,"y":58,"v":-4.1},{"x":35,"y":58,"v":-4},{"x":36,"y":58,"v":-4},{"x":36,"y":63,"v":-4.1},{"x":34,"y":66,"v":-4},{"x":28,"y":67,"v":-3.6},{"x":48,"y":62,"v":-4.1},{"x":46,"y":59,"v":-4.1},{"x":81,"y":60,"v":-3},{"x":80,"y":60,"v":-3.6},{"x":67,"y":54,"v":-4.1},{"x":68,"y":56,"v":-4.1},{"x":67,"y":58,"v":-4.1},{"x":69,"y":60,"v":-4.1},{"x":67,"y":62,"v":-4.1},{"x":68,"y":63,"v":-4},{"x":69,"y":63,"v":-4},{"x":68,"y":62,"v":-4},{"x":73,"y":59,"v":-3.6},{"x":74,"y":59,"v":-4.1},{"x":60,"y":59,"v":-4.1},{"x":61,"y":59,"v":-4.1},{"x":62,"y":59,"v":-4.1},{"x":48,"y":60,"v":-4.2},{"x":47,"y":64,"v":-4.1},{"x":80,"y":68,"v":-4.1},{"x":80,"y":69,"v":-4.1},{"x":80,"y":70,"v":-4.1},{"x":84,"y":66,"v":-4.1},{"x":61,"y":66,"v":-4.1},{"x":78,"y":53,"v":-4.1},{"x":78,"y":56,"v":-4.1},{"x":78,"y":59,"v":-4.1},{"x":84,"y":40,"v":-4.2},{"x":80,"y":41,"v":-4.1},{"x":82,"y":41,"v":-4.1},{"x":79,"y":36,"v":-4.2}],
"bars":[{"c":"Lymph & Myelo & ILC","x":0.057,"x2":0.355,"y":0,"y2":0.19},{"c":"Lymph & ILC","x":0.057,"x2":0.355,"y":0.19,"y2":0.295},{"c":"Lymph & Myelo","x":0.057,"x2":0.355,"y":0.295,"y2":0.39},{"c":"Myelo","x":0.057,"x2":0.355,"y":0.39,"y2":0.66},{"c":"Lymph","x":0.057,"x2":0.355,"y":0.66,"y2":0.8},{"c":"ILC","x":0.057,"x2":0.355,"y":0.8,"y2":1},{"c":"Lymph & Myelo & ILC","x":0.685,"x2":0.983,"y":0,"y2":0.05},{"c":"Myelo & ILC","x":0.685,"x2":0.983,"y":0.05,"y2":0.065},{"c":"Lymph & ILC","x":0.685,"x2":0.983,"y":0.065,"y2":0.11},{"c":"Lymph & Myelo","x":0.685,"x2":0.983,"y":0.11,"y2":0.23},{"c":"Myelo","x":0.685,"x2":0.983,"y":0.23,"y2":0.4},{"c":"Lymph","x":0.685,"x2":0.983,"y":0.4,"y2":0.85},{"c":"ILC","x":0.685,"x2":0.983,"y":0.85,"y2":1}],
"rib":[{"c":"Lymph & Myelo & ILC","x":0.355,"y":0,"y2":0.19},{"c":"Lymph & Myelo & ILC","x":0.685,"y":0,"y2":0.05},{"c":"Myelo & ILC","x":0.355,"y":0.19,"y2":0.19},{"c":"Myelo & ILC","x":0.685,"y":0.05,"y2":0.065},{"c":"Lymph & ILC","x":0.355,"y":0.19,"y2":0.295},{"c":"Lymph & ILC","x":0.685,"y":0.065,"y2":0.11},{"c":"Lymph & Myelo","x":0.355,"y":0.295,"y2":0.39},{"c":"Lymph & Myelo","x":0.685,"y":0.11,"y2":0.23},{"c":"Myelo","x":0.355,"y":0.39,"y2":0.66},{"c":"Myelo","x":0.685,"y":0.23,"y2":0.4},{"c":"Lymph","x":0.355,"y":0.66,"y2":0.8},{"c":"Lymph","x":0.685,"y":0.4,"y2":0.85},{"c":"ILC","x":0.355,"y":0.8,"y2":1},{"c":"ILC","x":0.685,"y":0.85,"y2":1}],
"pies":[{"p":"T-L","x":0,"y":0,"c":"Lymph","f":95,"o":1},{"p":"T-L","x":0,"y":0,"c":"Lymph & Myelo","f":72,"o":2},{"p":"T-L","x":0,"y":0,"c":"Lymph & ILC","f":80,"o":3},{"p":"T-L","x":0,"y":0,"c":"Lymph & Myelo & ILC","f":113,"o":5},{"p":"F-L","x":1,"y":0,"c":"Lymph","f":245,"o":1},{"p":"F-L","x":1,"y":0,"c":"Lymph & Myelo","f":60,"o":2},{"p":"F-L","x":1,"y":0,"c":"Lymph & ILC","f":30,"o":3},{"p":"F-L","x":1,"y":0,"c":"Lymph & Myelo & ILC","f":25,"o":5},{"p":"T-M","x":0,"y":1,"c":"Myelo","f":180,"o":1},{"p":"T-M","x":0,"y":1,"c":"Lymph & Myelo","f":60,"o":2},{"p":"T-M","x":0,"y":1,"c":"Lymph & Myelo & ILC","f":120,"o":5},{"p":"F-M","x":1,"y":1,"c":"Myelo","f":180,"o":1},{"p":"F-M","x":1,"y":1,"c":"Lymph & Myelo","f":110,"o":2},{"p":"F-M","x":1,"y":1,"c":"Myelo & ILC","f":15,"o":4},{"p":"F-M","x":1,"y":1,"c":"Lymph & Myelo & ILC","f":55,"o":5},{"p":"T-I","x":0,"y":2,"c":"ILC","f":130,"o":1},{"p":"T-I","x":0,"y":2,"c":"Lymph & ILC","f":90,"o":3},{"p":"T-I","x":0,"y":2,"c":"Lymph & Myelo & ILC","f":140,"o":5},{"p":"F-I","x":1,"y":2,"c":"ILC","f":185,"o":1},{"p":"F-I","x":1,"y":2,"c":"Lymph & ILC","f":70,"o":3},{"p":"F-I","x":1,"y":2,"c":"Myelo & ILC","f":30,"o":4},{"p":"F-I","x":1,"y":2,"c":"Lymph & Myelo & ILC","f":75,"o":5}],
"swatch":[{"c":"Lymph & Myelo & ILC","y":12.4,"x":31.9,"x2":37.1,"tx":39.3},{"c":"Myelo & ILC","y":21.7,"x":31.9,"x2":37.1,"tx":39.3},{"c":"Lymph & ILC","y":28,"x":31.9,"x2":37.1,"tx":39.3},{"c":"Lymph & Myelo","y":35.4,"x":31.9,"x2":37.1,"tx":39.3},{"c":"ILC","y":43.4,"x":31.9,"x2":37.1,"tx":39.3},{"c":"Myelo","y":50,"x":31.9,"x2":37.1,"tx":39.3},{"c":"Lymph","y":57,"x":31.9,"x2":37.1,"tx":39.3}]
},
"layer":[
{"data":{"values":[{"a":0,"b":1}]},"mark":{"type":"rect","color":"white"},"encoding":{"x":{"field":"a","type":"quantitative","scale":{"domain":[0,1],"range":[130,469]}},"x2":{"field":"b"},"y":{"datum":0,"type":"quantitative","scale":{"domain":[0,1],"range":[0,400]}},"y2":{"datum":1}}},
{"encoding":{"x":{"field":"x","type":"quantitative","scale":{"domain":[0,85],"range":[133.3,337.3]}},"y":{"field":"y","type":"quantitative","scale":{"domain":[0,127.5],"range":[73,200.5]}}},
"layer":[
{"data":{"name":"ga"},"mark":{"type":"rect","color":"#252f6b"},"encoding":{"x2":{"field":"x2"},"y2":{"field":"y2"}}},
{"data":{"name":"ga"},"mark":"rect","encoding":{"x2":{"field":"x2"},"y":{"field":"sy"},"y2":{"field":"sy2"},"fill":{"field":"g","type":"nominal","scale":{"domain":["B1","ILC","B/T","M/G","NK","Prog"],"range":["#ee85ab","#f5c400","#0f62a8","#c0143c","#b9b9b9","#000000"]}}}},
{"data":{"name":"hf"},"mark":{"type":"rect","width":2.4,"height":1,"opacity":0.42},"encoding":{"color":{"field":"v","type":"quantitative","scale":{"domain":[-5,-4.5,-4,-3.6,-3.3,-3,-2.5,-2,-1.5,-1],"range":["#1d2760","#1f4a9e","#3f9fdc","#9fe0ee","#fff3a0","#ffe21a","#ff9a10","#e8201c","#a81010","#4a0c0c"]}}}},
{"data":{"name":"ha"},"mark":{"type":"rect","width":2.4,"height":1.3},"encoding":{"color":{"field":"v","type":"quantitative","scale":{"domain":[-5,-4.5,-4,-3.6,-3.3,-3,-2.5,-2,-1.5,-1],"range":["#1d2760","#1f4a9e","#3f9fdc","#9fe0ee","#fff3a0","#ffe21a","#ff9a10","#e8201c","#a81010","#4a0c0c"]}}}},
{"data":{"name":"la"},"mark":{"type":"text","angle":270,"align":"left","baseline":"middle","fontSize":2.8,"color":"#666"},"encoding":{"text":{"field":"t"}}},
{"data":{"name":"lega"},"mark":{"type":"rect","height":4.4},"encoding":{"x2":{"field":"x2"},"fill":{"field":"g","type":"nominal","scale":{"domain":["B1","ILC","B/T","M/G","NK","Prog"],"range":["#ee85ab","#f5c400","#0f62a8","#c0143c","#b9b9b9","#000000"]}}}},
{"data":{"name":"lega"},"mark":{"type":"text","align":"left","baseline":"middle","fontSize":5.6},"encoding":{"x":{"field":"tx"},"text":{"field":"t"}}},
{"data":{"name":"cba"},"mark":{"type":"rect","height":1.8,"width":6},"encoding":{"color":{"field":"v","type":"quantitative","scale":{"domain":[-5,-4.5,-4,-3.6,-3.3,-3,-2.5,-2,-1.5,-1],"range":["#1d2760","#1f4a9e","#3f9fdc","#9fe0ee","#fff3a0","#ffe21a","#ff9a10","#e8201c","#a81010","#4a0c0c"]}}}},
{"data":{"name":"cta"},"mark":{"type":"text","align":"left","baseline":"middle","fontSize":3.4},"encoding":{"text":{"field":"t"}}},
{"data":{"values":[{"x":87.8,"y":25,"t":"log10 freq"}]},"mark":{"type":"text","angle":270,"align":"center","baseline":"middle","fontSize":3.2},"encoding":{"text":{"field":"t"}}},
{"data":{"values":[{"x":-1.4,"y":-69,"t":"Fig. 3."}]},"mark":{"type":"text","align":"left","baseline":"middle","fontSize":10,"fontWeight":"bold","color":"#000"},"encoding":{"text":{"field":"t"}}},
{"data":{"values":[{"x":-1,"y":-60,"t":"A"}]},"mark":{"type":"text","align":"left","baseline":"middle","fontSize":5.5,"fontWeight":"bold","color":"#000"},"encoding":{"text":{"field":"t"}}},
{"data":{"values":[{"x":39.6,"y":-55,"t":"Flt3CreERT2tgRosa"}]},"mark":{"type":"text","align":"right","baseline":"middle","fontSize":6.8,"fontStyle":"italic"},"encoding":{"text":{"field":"t"}}},
{"data":{"values":[{"x":39.8,"y":-56.5,"t":"Polylox"}]},"mark":{"type":"text","align":"left","baseline":"middle","fontSize":3.8,"fontStyle":"italic"},"encoding":{"text":{"field":"t"}}},
{"data":{"values":[{"x":45.8,"y":-55,"t":"P6 → 22w (976 barcodes)"}]},"mark":{"type":"text","align":"left","baseline":"middle","fontSize":6.6},"encoding":{"text":{"field":"t"}}}
]},
{"encoding":{"x":{"field":"x","type":"quantitative","scale":{"domain":[0,85],"range":[134,336.7]}},"y":{"field":"y","type":"quantitative","scale":{"domain":[0,70.6],"range":[273,400]}}},
"layer":[
{"data":{"name":"gb"},"mark":{"type":"rect","color":"#252f6b"},"encoding":{"x2":{"field":"x2"},"y2":{"field":"y2"}}},
{"data":{"name":"gb"},"mark":"rect","encoding":{"x2":{"field":"x2"},"y":{"field":"sy"},"y2":{"field":"sy2"},"fill":{"field":"g","type":"nominal","scale":{"domain":["B1","ILC","B/T","M/G","NK","Prog"],"range":["#ee85ab","#f5c400","#0f62a8","#c0143c","#b9b9b9","#000000"]}}}},
{"data":{"name":"hb"},"mark":{"type":"rect","width":2.45,"height":1.85},"encoding":{"color":{"field":"v","type":"quantitative","scale":{"domain":[-5,-4.5,-4,-3.6,-3.3,-3,-2.5,-2,-1.5,-1],"range":["#1d2760","#1f4a9e","#3f9fdc","#9fe0ee","#fff3a0","#ffe21a","#ff9a10","#e8201c","#a81010","#4a0c0c"]}}}},
{"data":{"name":"lb"},"mark":{"type":"text","angle":270,"align":"left","baseline":"middle","fontSize":2.8,"color":"#666"},"encoding":{"text":{"field":"t"}}},
{"data":{"name":"legb"},"mark":{"type":"rect","height":4.4},"encoding":{"x2":{"field":"x2"},"fill":{"field":"g","type":"nominal","scale":{"domain":["B1","ILC","B/T","M/G","NK","Prog"],"range":["#ee85ab","#f5c400","#0f62a8","#c0143c","#b9b9b9","#000000"]}}}},
{"data":{"name":"legb"},"mark":{"type":"text","align":"left","baseline":"middle","fontSize":5.6},"encoding":{"x":{"field":"tx"},"text":{"field":"t"}}},
{"data":{"name":"cbb"},"mark":{"type":"rect","height":1.8,"width":6.4},"encoding":{"color":{"field":"v","type":"quantitative","scale":{"domain":[-5,-4.5,-4,-3.6,-3.3,-3,-2.5,-2,-1.5,-1],"range":["#1d2760","#1f4a9e","#3f9fdc","#9fe0ee","#fff3a0","#ffe21a","#ff9a10","#e8201c","#a81010","#4a0c0c"]}}}},
{"data":{"name":"ctb"},"mark":{"type":"text","align":"left","baseline":"middle","fontSize":3.4},"encoding":{"text":{"field":"t"}}},
{"data":{"values":[{"x":87.6,"y":12,"t":"log10 freq"}]},"mark":{"type":"text","angle":270,"align":"center","baseline":"middle","fontSize":3.2},"encoding":{"text":{"field":"t"}}},
{"data":{"values":[{"x":-1.3,"y":-32.2,"t":"B"}]},"mark":{"type":"text","align":"left","baseline":"middle","fontSize":5.5,"fontWeight":"bold","color":"#000"},"encoding":{"text":{"field":"t"}}},
{"data":{"values":[{"x":30,"y":-31.1,"t":"Tie2ᴹᶜᴹRosa"}]},"mark":{"type":"text","align":"right","baseline":"middle","fontSize":6.8,"fontStyle":"italic"},"encoding":{"text":{"field":"t"}}},
{"data":{"values":[{"x":30.2,"y":-32,"t":"Polylox"}]},"mark":{"type":"text","align":"left","baseline":"middle","fontSize":3.8,"fontStyle":"italic"},"encoding":{"text":{"field":"t"}}},
{"data":{"values":[{"x":36.5,"y":-31.1,"t":"E9.5  → 17w (71 barcodes)"}]},"mark":{"type":"text","align":"left","baseline":"middle","fontSize":6.6},"encoding":{"text":{"field":"t"}}}
]},
{"encoding":{"x":{"field":"x","type":"quantitative","scale":{"domain":[0,1],"range":[407.7,448]}},"y":{"field":"y","type":"quantitative","scale":{"domain":[0,1],"range":[100,22]}}},
"layer":[
{"data":{"values":[{"x":0,"x2":1,"y":-0.01,"y2":1}]},"mark":{"type":"rect","fill":"transparent","stroke":"#aaaaaa","strokeWidth":0.7},"encoding":{"x2":{"field":"x2"},"y2":{"field":"y2"}}},
{"data":{"name":"rib"},"mark":{"type":"area","orient":"vertical","opacity":0.5},"encoding":{"y":{"field":"y","type":"quantitative","stack":null},"y2":{"field":"y2"},"fill":{"field":"c","type":"nominal","scale":{"domain":["Lymph & Myelo & ILC","Myelo & ILC","Lymph & ILC","Lymph & Myelo","ILC","Myelo","Lymph"],"range":["#000000","#f07f1e","#d9a0bf","#6aae50","#f5c400","#c0143c","#0f62a8"]}},"detail":{"field":"c"}}},
{"data":{"name":"bars"},"mark":{"type":"rect","stroke":"#666655","strokeWidth":0.4},"encoding":{"x2":{"field":"x2"},"y2":{"field":"y2"},"fill":{"field":"c","type":"nominal","scale":{"domain":["Lymph & Myelo & ILC","Myelo & ILC","Lymph & ILC","Lymph & Myelo","ILC","Myelo","Lymph"],"range":["#000000","#f07f1e","#d9a0bf","#6aae50","#f5c400","#c0143c","#0f62a8"]}}}},
{"data":{"values":[{"x":-0.07,"y":1,"t":"1.00"},{"x":-0.07,"y":0.75,"t":"0.75"},{"x":-0.07,"y":0.5,"t":"0.50"},{"x":-0.07,"y":0.25,"t":"0.25"},{"x":-0.07,"y":0,"t":"0"}]},"mark":{"type":"text","align":"right","baseline":"middle","fontSize":5.5},"encoding":{"text":{"field":"t"}}},
{"data":{"values":[{"x":-0.42,"y":0.5,"t":"barcode fraction"}]},"mark":{"type":"text","angle":270,"align":"center","baseline":"middle","fontSize":5.6},"encoding":{"text":{"field":"t"}}},
{"data":{"values":[{"x":0.23,"y":-0.09,"t":"Tie2ᴹᶜᴹ"},{"x":0.93,"y":-0.09,"t":"Flt3CreERT2tg"}]},"mark":{"type":"text","angle":315,"align":"right","baseline":"middle","fontSize":6.6,"fontStyle":"italic"},"encoding":{"text":{"field":"t"}}},
{"data":{"values":[{"x":-0.935,"y":1.115,"t":"C"}]},"mark":{"type":"text","align":"left","baseline":"middle","fontSize":5.5,"fontWeight":"bold","color":"#000"},"encoding":{"text":{"field":"t"}}}
]},
{"encoding":{"x":{"field":"x","type":"quantitative","scale":{"domain":[0,100],"range":[373.3,468.3]}},"y":{"field":"y","type":"quantitative","scale":{"domain":[0,61],"range":[143.3,204.3]}}},
"layer":[
{"data":{"values":[{"x":0,"x2":100,"y":0},{"x":0,"x2":100,"y":8},{"x":0,"x2":100,"y":16.7},{"x":0,"x2":100,"y":39},{"x":0,"x2":100,"y":60.7}]},"mark":{"type":"rule","color":"#999999","strokeWidth":0.9},"encoding":{"x2":{"field":"x2"}}},
{"data":{"values":[{"x":0,"y":0,"y2":60.7},{"x":28.1,"y":0,"y2":60.7},{"x":100,"y":0,"y2":60.7}]},"mark":{"type":"rule","color":"#999999","strokeWidth":0.9},"encoding":{"y2":{"field":"y2"}}},
{"data":{"values":[{"x":14.1,"y":3.7,"t":"potential"},{"x":63.9,"y":3.7,"t":"lineage combination"},{"x":14.1,"y":12.4,"t":"multi"},{"x":14.1,"y":28,"t":"bi"},{"x":14.1,"y":50,"t":"uni"}]},"mark":{"type":"text","align":"center","baseline":"middle","fontSize":5.5},"encoding":{"text":{"field":"t"}}},
{"data":{"name":"swatch"},"mark":{"type":"rect","height":3.6},"encoding":{"x2":{"field":"x2"},"fill":{"field":"c","type":"nominal","scale":{"domain":["Lymph & Myelo & ILC","Myelo & ILC","Lymph & ILC","Lymph & Myelo","ILC","Myelo","Lymph"],"range":["#000000","#f07f1e","#d9a0bf","#6aae50","#f5c400","#c0143c","#0f62a8"]}}}},
{"data":{"name":"swatch"},"mark":{"type":"text","align":"left","baseline":"middle","fontSize":5.6},"encoding":{"x":{"field":"tx"},"text":{"field":"c"}}}
]},
{"encoding":{"x":{"field":"x","type":"quantitative","scale":{"domain":[0,1],"range":[413,446]}},"y":{"field":"y","type":"quantitative","scale":{"domain":[0,2],"range":[272,357]}}},
"layer":[
{"data":{"name":"pies"},"transform":[{"stack":"f","groupby":["p"],"sort":[{"field":"o","order":"ascending"}],"offset":"normalize","as":["a0","a1"]}],"mark":{"type":"arc","outerRadius":12,"stroke":"#555555","strokeWidth":0.4},"encoding":{"theta":{"field":"a0","type":"quantitative","stack":null,"scale":{"domain":[0,1],"range":[3.14159,9.42478]}},"theta2":{"field":"a1"},"fill":{"field":"c","type":"nominal","scale":{"domain":["Lymph & Myelo & ILC","Myelo & ILC","Lymph & ILC","Lymph & Myelo","ILC","Myelo","Lymph"],"range":["#000000","#f07f1e","#d9a0bf","#6aae50","#f5c400","#c0143c","#0f62a8"]}}}},
{"data":{"values":[{"x":0,"y":0.42,"t":"(26)"},{"x":1,"y":0.42,"t":"(441)"},{"x":0,"y":1.42,"t":"(27)"},{"x":1,"y":1.42,"t":"(237)"},{"x":0,"y":2.41,"t":"(23)"},{"x":1,"y":2.41,"t":"(173)"}]},"mark":{"type":"text","align":"center","baseline":"middle","fontSize":6.2},"encoding":{"text":{"field":"t"}}},
{"data":{"values":[{"x":-0.6,"y":0.05,"t":"Lymph"},{"x":-0.6,"y":1.03,"t":"Myelo"},{"x":-0.6,"y":2.02,"t":"ILC"}]},"mark":{"type":"text","align":"right","baseline":"middle","fontSize":6.6},"encoding":{"text":{"field":"t"}}},
{"data":{"values":[{"x":-0.24,"y":-0.44,"t":"Tie2ᴹᶜᴹ"},{"x":0.49,"y":-0.44,"t":"Flt3CreERT2tg"}]},"mark":{"type":"text","angle":315,"align":"left","baseline":"middle","fontSize":6.6,"fontStyle":"italic"},"encoding":{"text":{"field":"t"}}},
{"data":{"values":[{"x":-1.3,"y":-1.25,"t":"D"}]},"mark":{"type":"text","align":"left","baseline":"middle","fontSize":5.5,"fontWeight":"bold","color":"#000"},"encoding":{"text":{"field":"t"}}}
]}
]}
